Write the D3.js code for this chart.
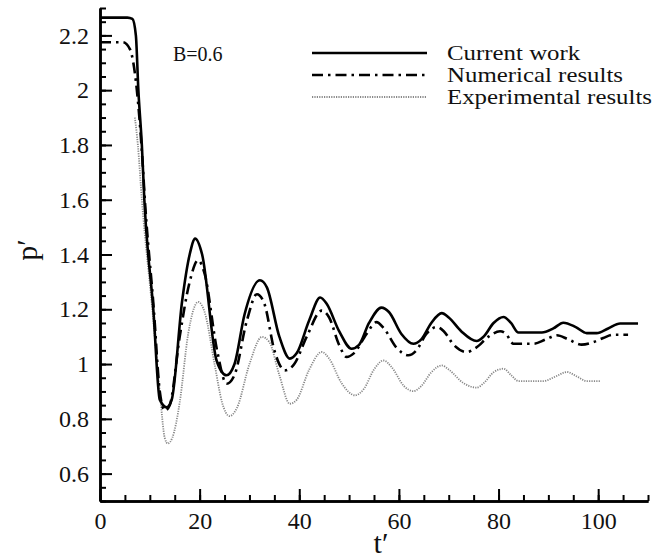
<!DOCTYPE html>
<html>
<head>
<meta charset="utf-8">
<script src="https://cdn.jsdelivr.net/npm/d3@7"></script>
<style>
  body { margin:0; background:#fff; }
  svg { font-family:"Liberation Serif","Times New Roman",serif; }
</style>
</head>
<body>
<svg id="chart"></svg>
<script>
// board size
var svg_w = 667, svg_h = 559;
var pad_left = 100, pad_right = 19, pad_top = 8, pad_bottom = 58;

// curve data
var cur_t = [0,5.5,6.5,7.2,7.7,8.4,8.9,10.7,12,13.4,14.4,16.5,18,19.1,20.5,23.4,25.4,27,29,32.1,33.5,36,38.1,39.5,42,44.2,45.5,48,50.5,52,54,56.5,58,60.5,62.9,64.5,66.5,68.6,70,72.5,75.6,77,79,81,82.5,84,88.7,91,93,95.5,97.7,99.7,102,104.4,108];
var cur_p = [2.265,2.265,2.26,2.2,2.0,1.8,1.6,1.2,0.87,0.842,0.87,1.232,1.4,1.458,1.4,1.013,0.959,1.0,1.18,1.306,1.28,1.1,1.02,1.04,1.16,1.243,1.22,1.12,1.056,1.07,1.15,1.206,1.19,1.11,1.074,1.09,1.15,1.186,1.17,1.12,1.084,1.1,1.15,1.172,1.15,1.115,1.115,1.13,1.151,1.135,1.113,1.113,1.13,1.148,1.148];

var num_t = [0,4.6,6,7.4,8.5,9,10.8,12,13,14,16,18,19.7,21,23.5,25.4,27,29.5,31.5,33,35,37.1,39,41.5,44.5,46,48,49.5,51,53.5,55.5,57,59.5,61.9,63.5,65.5,67.6,69,71,73.6,75.5,78,80.3,81.5,83,87,89.5,91.7,94,96.7,99,101,103,106];
var num_p = [2.175,2.175,2.15,2.0,1.75,1.6,1.2,0.9,0.83,0.85,1.1,1.3,1.379,1.33,1.05,0.928,0.96,1.16,1.255,1.22,1.05,0.977,1.0,1.1,1.195,1.17,1.07,1.026,1.04,1.11,1.153,1.13,1.06,1.032,1.05,1.11,1.135,1.12,1.07,1.044,1.06,1.1,1.12,1.11,1.074,1.074,1.09,1.105,1.09,1.071,1.08,1.095,1.107,1.107];

var exp_t = [7,7.6,8.4,10.5,12,13,13.6,14.5,16,17.7,19.7,21,23,24.5,26,27.5,30,32.5,34,36,38.1,39.5,42,44.5,46,48.5,51.2,53,55,56.9,58.5,61,62.9,64.5,66.5,68.6,70,73,75.6,77,79,81,82.5,84,89,91.5,93.7,95.7,97.7,100.4];
var exp_p = [1.9,1.8,1.6,1.2,0.9,0.73,0.71,0.73,0.86,1.11,1.227,1.19,1.0,0.86,0.81,0.84,1.0,1.099,1.08,0.96,0.855,0.87,0.98,1.044,1.02,0.93,0.886,0.91,0.98,1.013,0.99,0.92,0.901,0.92,0.97,0.995,0.98,0.93,0.914,0.93,0.97,0.983,0.96,0.938,0.938,0.955,0.971,0.955,0.938,0.938];

// axis ticks
var x_major = [0,20,40,60,80,100];
var x_minor = d3.range(0,111,5);
var y_major = [0.6,0.8,1,1.2,1.4,1.6,1.8,2,2.2];
var y_minor = d3.range(10,47,1).map(function(d){return d*0.05;});

var series_names = ["Current work","Numerical results","Experimental results"];
var label_b = "B=0.6";

var svg = d3.select("#chart").attr("width",svg_w).attr("height",svg_h);

var x_scale = d3.scaleLinear().domain([0,110]).range([pad_left,svg_w-pad_right]);
var y_scale = d3.scaleLinear().domain([0.5,2.3]).range([svg_h-pad_bottom,pad_top]);

// x 축
svg.append("g").attr("class","x_minor")
  .attr("transform","translate(0,"+y_scale(0.5)+")")
  .call(d3.axisBottom(x_scale).tickValues(x_minor).tickSize(-6).tickSizeOuter(0).tickFormat(""));
svg.append("g").attr("class","x_axis")
  .attr("transform","translate(0,"+y_scale(0.5)+")")
  .call(d3.axisBottom(x_scale).tickValues(x_major).tickSize(-12).tickSizeOuter(0).tickPadding(11).tickFormat(d3.format("d")));
// y 축
svg.append("g").attr("class","y_minor")
  .attr("transform","translate("+x_scale(0)+",0)")
  .call(d3.axisLeft(y_scale).tickValues(y_minor).tickSize(-6).tickSizeOuter(0).tickFormat(""));
svg.append("g").attr("class","y_axis")
  .attr("transform","translate("+x_scale(0)+",0)")
  .call(d3.axisLeft(y_scale).tickValues(y_major).tickSize(-12).tickSizeOuter(0).tickPadding(11).tickFormat(function(d){return d3.format("")(+d.toFixed(1));}));

svg.selectAll(".x_axis path,.y_axis path,.x_minor path,.y_minor path")
  .attr("stroke","#000").attr("stroke-width",2.5);
svg.selectAll(".tick line").attr("stroke","#000").attr("stroke-width",2);
svg.selectAll(".x_axis text,.y_axis text")
  .attr("font-family","Liberation Serif, serif").attr("font-size",24).attr("fill","#111");

// axis titles
draw_text(svg,(pad_left+svg_w-pad_right)/2+7,553,"t\u2032").attr("font-size",30).attr("text-anchor","middle");
draw_text(svg,0,0,"p\u2032").attr("font-size",30).attr("text-anchor","middle")
  .attr("transform","translate(37,250) rotate(-90)");
draw_text(svg,173,61,label_b).attr("font-size",20);

// curves
var line = d3.line()
  .x(function(d){return x_scale(d[0]);})
  .y(function(d){return y_scale(d[1]);})
  .curve(d3.curveMonotoneX);

function zip(a,b){ return a.map(function(d,i){return [d,b[i]];}); }

draw_path(svg,zip(exp_t,exp_p)).attr("stroke","#888").attr("stroke-width",1.8).attr("stroke-dasharray","1.2 1.2");
draw_path(svg,zip(num_t,num_p)).attr("stroke","#000").attr("stroke-width",2.6).attr("stroke-dasharray","11 5 2.5 5");
draw_path(svg,zip(cur_t,cur_p)).attr("stroke","#000").attr("stroke-width",2.6);

// legend
var leg_y = [53,75,97];
var leg_style = [
  {stroke:"#000",w:2.6,dash:null},
  {stroke:"#000",w:2.6,dash:"11 5 2.5 5"},
  {stroke:"#888",w:1.8,dash:"1.2 1.2"}
];
series_names.forEach(function(name,i){
  var l = draw_line(svg,312,427,leg_y[i],leg_y[i])
    .attr("stroke",leg_style[i].stroke).attr("stroke-width",leg_style[i].w);
  if(leg_style[i].dash) l.attr("stroke-dasharray",leg_style[i].dash);
  draw_text(svg,0,0,name).attr("font-size",22)
    .attr("transform","translate(447,"+(leg_y[i]+7)+") scale(1.13,1)");
});

function draw_path(p_obj,data){
  return p_obj.append("path").datum(data).attr("fill","none").attr("d",line)
    .attr("stroke-linejoin","round");
}
function draw_line(p_obj,x1,x2,y1,y2){
  return p_obj.append("line").attr("x1",x1).attr("x2",x2).attr("y1",y1).attr("y2",y2);
}
function draw_text(p_obj,x,y,text){
  return p_obj.append("text").attr("x",x).attr("y",y).attr("fill","#111").text(text);
}
</script>
</body>
</html>
